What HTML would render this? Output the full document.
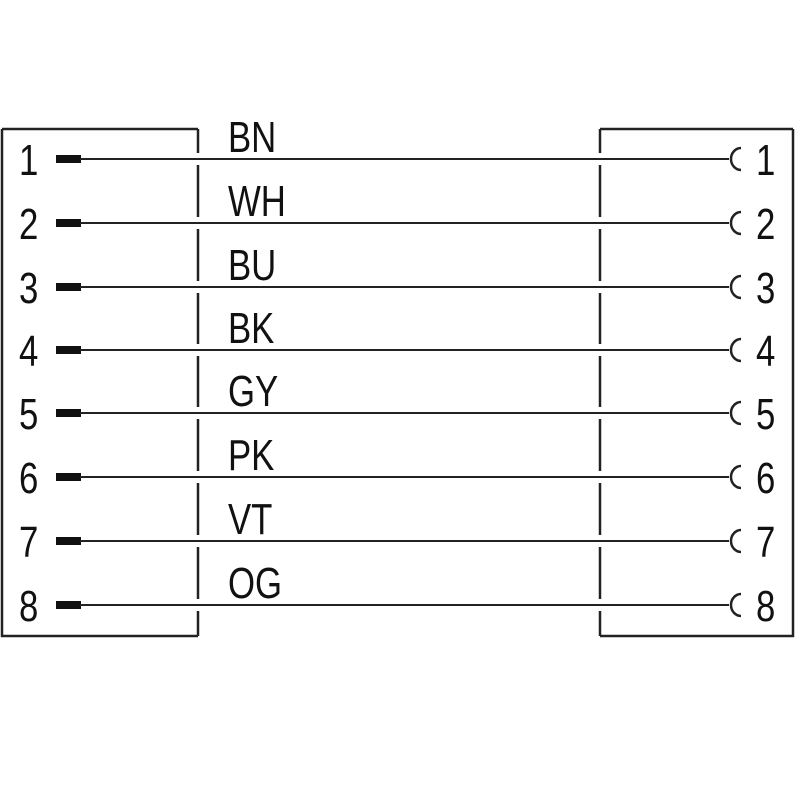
<!DOCTYPE html>
<html><head><style>body{margin:0;background:#fff}</style></head><body>
<svg width="800" height="800" viewBox="0 0 800 800" xmlns="http://www.w3.org/2000/svg" font-family="'Liberation Sans',sans-serif" fill="#111">
<g stroke="#222" stroke-width="2.5" fill="none">
<polyline points="2,129 198,129"/>
<polyline points="2,129 2,636 198,636"/>
<polyline points="793,129 600,129"/>
<polyline points="793,129 793,636 600,636"/>
</g>
<g id="rows"></g>
<script>
var ys=[159,223,287,350,413,477,541,605],labs=["BN","WH","BU","BK","GY","PK","VT","OG"];
var ns="http://www.w3.org/2000/svg",g=document.getElementById("rows");
function el(t,a,tx){var e=document.createElementNS(ns,t);for(var k in a)e.setAttribute(k,a[k]);if(tx)e.textContent=tx;g.appendChild(e);return e;}
function txt(x,y,s){el("text",{transform:"translate("+x+","+y+") scale(0.79,1)","font-size":44},s);}
var prev=129;
ys.forEach(function(y,i){
 el("line",{x1:198,y1:prev,x2:198,y2:y-6,stroke:"#222","stroke-width":2.5});
 el("line",{x1:600,y1:prev,x2:600,y2:y-6,stroke:"#222","stroke-width":2.5});
 prev=y+6;
 el("rect",{x:56,y:y-4,width:25,height:8,fill:"#111"});
 el("line",{x1:80,y1:y,x2:729,y2:y,stroke:"#222","stroke-width":2});
 el("path",{d:"M741,"+(y-11)+" A10,11 0 0 0 741,"+(y+11),stroke:"#222","stroke-width":2.5,fill:"none"});
 txt(19,y+16,String(i+1));
 txt(756,y+16,String(i+1));
 txt(228,y-7,labs[i]);
});
el("line",{x1:198,y1:prev,x2:198,y2:636,stroke:"#222","stroke-width":2.5});
el("line",{x1:600,y1:prev,x2:600,y2:636,stroke:"#222","stroke-width":2.5});
</script>
</svg>
</body></html>
